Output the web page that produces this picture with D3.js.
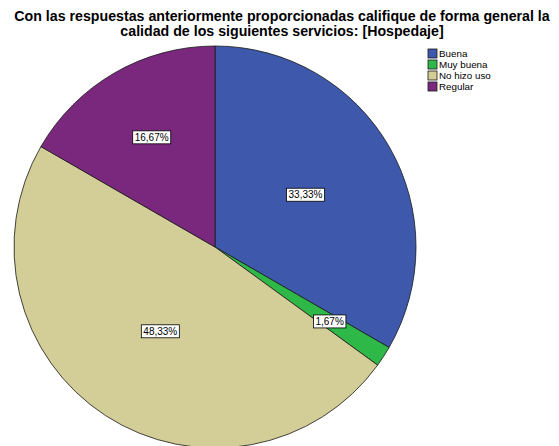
<!DOCTYPE html>
<html>
<head>
<meta charset="utf-8">
<script src="https://cdn.jsdelivr.net/npm/d3@7"></script>
<style>
  html, body { margin: 0; padding: 0; background: #fff; }
  svg { display: block; font-family: "Liberation Sans", Arial, sans-serif; }
</style>
</head>
<body>
<svg id="chart" width="559" height="446"></svg>
<script>
// Hospedaje rating, percentage of respondents per category
const categories = ["Buena", "Muy buena", "No hizo uso", "Regular"];
const percents = [33.33, 1.67, 48.33, 16.67];
const colors = ["#3E58AC", "#2EB848", "#D3CE97", "#79287D"];
const titleLines = [
  "Con las respuestas anteriormente proporcionadas califique de forma general la",
  "calidad de los siguientes servicios: [Hospedaje]"
];
// distance of each value label from the centre, as a share of the radius
const labelRadius = [0.52, 0.68, 0.5, 0.63];

const svg = d3.select("#chart");
const cx = 215, cy = 247, r = 201;

const pie = d3.pie().sort(null).value(d => d)(percents);
const arc = d3.arc().innerRadius(0).outerRadius(r);

const g = svg.append("g").attr("transform", `translate(${cx},${cy})`);

g.selectAll("path.slice")
  .data(pie)
  .join("path")
  .attr("class", "slice")
  .attr("d", arc)
  .attr("fill", (d, i) => colors[i])
  .attr("stroke", "#1a1a1a")
  .attr("stroke-width", 0.8);

const fmt = v => v.toFixed(2).replace(".", ",") + "%";

pie.forEach((d, i) => {
  const rr = r * labelRadius[i];
  const [lx, ly] = d3.arc().innerRadius(rr).outerRadius(rr).centroid(d);
  const lg = g.append("g").attr("transform", `translate(${lx},${ly})`);
  const t = lg.append("text")
    .attr("text-anchor", "middle")
    .attr("dy", "0.35em")
    .attr("font-size", 10)
    .attr("fill", "#000")
    .text(fmt(percents[i]));
  const bb = t.node().getBBox();
  lg.insert("rect", "text")
    .attr("x", bb.x - 2)
    .attr("y", bb.y - 1)
    .attr("width", bb.width + 4)
    .attr("height", bb.height + 2)
    .attr("fill", "#fff")
    .attr("stroke", "#000")
    .attr("stroke-width", 0.8);
});

// title
svg.append("g").selectAll("text")
  .data(titleLines)
  .join("text")
  .attr("x", 282)
  .attr("y", (d, i) => 21 + i * 15)
  .attr("text-anchor", "middle")
  .attr("font-size", 14.2)
  .attr("font-weight", "bold")
  .attr("fill", "#000")
  .text(d => d);

// legend
const leg = svg.append("g").attr("transform", "translate(428,49)");
const items = leg.selectAll("g")
  .data(categories)
  .join("g")
  .attr("transform", (d, i) => `translate(0,${i * 11})`);
items.append("rect")
  .attr("width", 9).attr("height", 9)
  .attr("fill", (d, i) => colors[i])
  .attr("stroke", "#1a1a1a").attr("stroke-width", 0.8);
items.append("text")
  .attr("x", 11).attr("y", 4.5).attr("dy", "0.35em")
  .attr("font-size", 9.8)
  .attr("fill", "#000")
  .text(d => d);
</script>
</body>
</html>
